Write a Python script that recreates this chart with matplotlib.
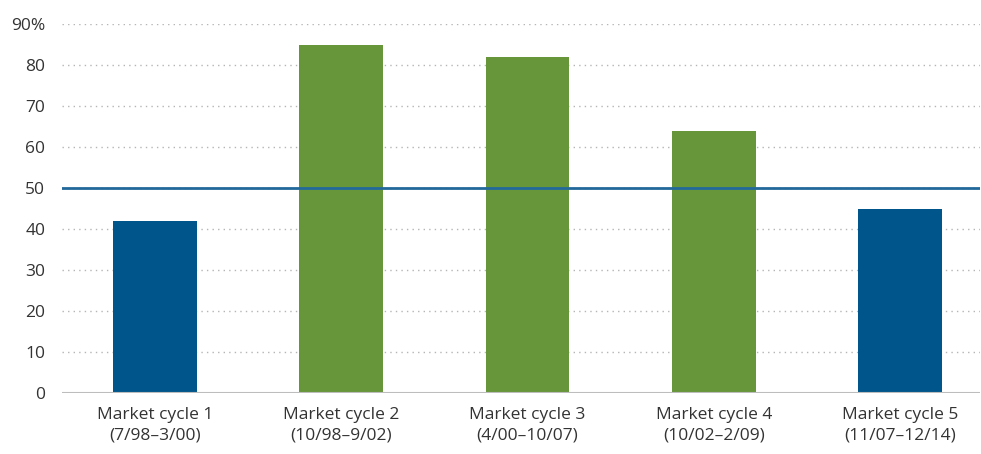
import matplotlib.pyplot as plt
import numpy as np

plt.rcParams['font.family'] = ['Open Sans', 'DejaVu Sans']

# data
cycles = ['Market cycle 1\n(7/98–3/00)', 'Market cycle 2\n(10/98–9/02)',
          'Market cycle 3\n(4/00–10/07)', 'Market cycle 4\n(10/02–2/09)',
          'Market cycle 5\n(11/07–12/14)']
values = [42, 85, 82, 64, 45]
bar_colors = ['#00568b', '#67963a', '#67963a', '#67963a', '#00568b']
threshold = 50
yticks = [0, 10, 20, 30, 40, 50, 60, 70, 80, 90]
ytick_labels = ['0', '10', '20', '30', '40', '50', '60', '70', '80', '90%']

fig = plt.figure(figsize=(9.81, 4.54), dpi=100)
ax = fig.add_axes([0.0632, 0.1344, 0.9358, 0.8126])

x = np.arange(len(values))
ax.bar(x, values, width=0.45, color=bar_colors, zorder=3)
ax.axhline(threshold, color='#22689a', lw=2, zorder=4)

ax.set_ylim(0, 90)
ax.set_xlim(-0.5, 4.43)
ax.set_yticks(yticks)
ax.set_yticklabels(ytick_labels)
ax.set_xticks(x)
ax.set_xticklabels(cycles, linespacing=1.4)

for y in yticks[1:]:
    ax.axhline(y, color='#b5b5b5', lw=1, ls=(0, (1, 3)), zorder=1)
ax.axhline(0, color='#bdbdbd', lw=1.5, zorder=5)

for s in ax.spines.values():
    s.set_visible(False)
ax.tick_params(axis='both', length=0, labelsize=12.5, labelcolor='#333333')
ax.tick_params(axis='y', pad=12)
ax.tick_params(axis='x', pad=10)

fig.savefig('out.png', dpi=100)
